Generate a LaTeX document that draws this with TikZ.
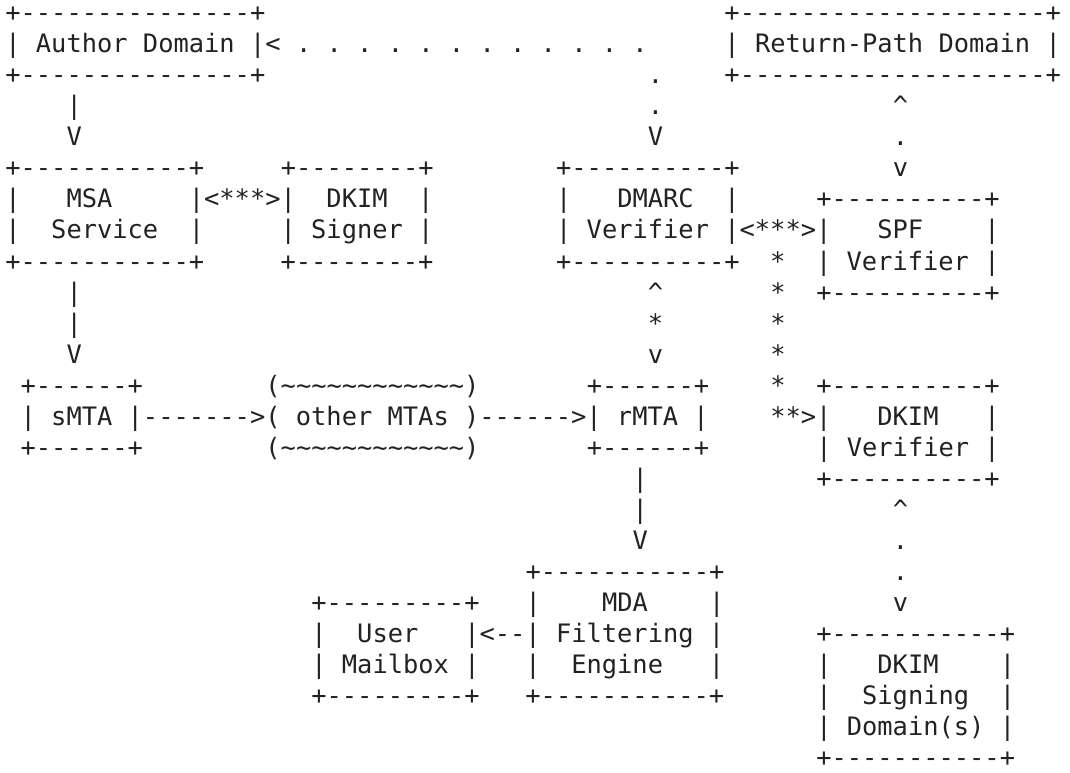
\documentclass[tikz,border=0pt]{standalone}
\usepackage{fontspec}
\newfontfamily\asciifont{DejaVu Sans Mono}[Ligatures=TeXOff]
\definecolor{ink}{RGB}{34,34,34}
\newcommand\asctilde{\textasciitilde}
\newcommand\asccaret{\textasciicircum}
\newcommand\asc[4]{\node[ascii] (#3) at ({5.35+15.3*(#1)},{21.6+31.05*(#2)}) {#4};}
\tikzset{ascii/.style={anchor=base west, inner sep=0pt, outer sep=0pt, text=ink,
  text depth=0pt,
  font=\asciifont\fontsize{25.4}{30}\selectfont\frenchspacing}}
\begin{document}
\begin{tikzpicture}[x=1pt,y=-1pt]
\useasboundingbox (0,0) rectangle (1070,772);
% row 0-2
\asc{0}{0}{authT}{+---------------+}
\asc{47}{0}{rpT}{+--------------------+}
\asc{0}{1}{authM}{|~Author~Domain~|}
\asc{17}{1}{dotsH}{<~.~.~.~.~.~.~.~.~.~.~.~.}
\asc{47}{1}{rpM}{|~Return-Path~Domain~|}
\asc{0}{2}{authB}{+---------------+}
\asc{42}{2}{d1}{.}
\asc{47}{2}{rpB}{+--------------------+}
% row 3-4
\asc{4}{3}{a1}{|}
\asc{42}{3}{d2}{.}
\asc{58}{3}{s1}{\asccaret}
\asc{4}{4}{a2}{V}
\asc{42}{4}{d3}{V}
\asc{58}{4}{s2}{.}
% row 5-8
\asc{0}{5}{msaT}{+-----------+}
\asc{18}{5}{dkimT}{+--------+}
\asc{36}{5}{dmT}{+----------+}
\asc{58}{5}{s3}{v}
\asc{0}{6}{msa1}{|~~~MSA~~~~~|<***>|~~DKIM~~|}
\asc{36}{6}{dm1}{|~~~DMARC~~|}
\asc{53}{6}{spfT}{+----------+}
\asc{0}{7}{msa2}{|~~Service~~|~~~~~|~Signer~|}
\asc{36}{7}{dm2}{|~Verifier~|<***>|~~~SPF~~~~|}
\asc{0}{8}{msaB}{+-----------+~~~~~+--------+}
\asc{36}{8}{dmB}{+----------+~~*~~|~Verifier~|}
% row 9-11
\asc{4}{9}{b1}{|}
\asc{42}{9}{r1}{\asccaret}
\asc{50}{9}{k1}{*}
\asc{53}{9}{spfB}{+----------+}
\asc{4}{10}{b2}{|}
\asc{42}{10}{r2}{*}
\asc{50}{10}{k2}{*}
\asc{4}{11}{b3}{V}
\asc{42}{11}{r3}{v}
\asc{50}{11}{k3}{*}
% row 12-14
\asc{1}{12}{smT}{+------+}
\asc{17}{12}{omT}{(\asctilde\asctilde\asctilde\asctilde\asctilde\asctilde\asctilde\asctilde\asctilde\asctilde\asctilde\asctilde)}
\asc{38}{12}{rmT}{+------+}
\asc{50}{12}{k4}{*}
\asc{53}{12}{dvT}{+----------+}
\asc{1}{13}{sm}{|~sMTA~|------->(~other~MTAs~)------>|~rMTA~|}
\asc{50}{13}{dv1}{**>|~~~DKIM~~~|}
\asc{1}{14}{smB}{+------+}
\asc{17}{14}{omB}{(\asctilde\asctilde\asctilde\asctilde\asctilde\asctilde\asctilde\asctilde\asctilde\asctilde\asctilde\asctilde)}
\asc{38}{14}{rmB}{+------+}
\asc{53}{14}{dv2}{|~Verifier~|}
% row 15-19
\asc{41}{15}{m1}{|}
\asc{53}{15}{dvB}{+----------+}
\asc{41}{16}{m2}{|}
\asc{58}{16}{g1}{\asccaret}
\asc{41}{17}{m3}{V}
\asc{58}{17}{g2}{.}
\asc{34}{18}{mdaT}{+-----------+}
\asc{58}{18}{g3}{.}
\asc{20}{19}{usT}{+---------+}
\asc{34}{19}{mda1}{|~~~~MDA~~~~|}
\asc{58}{19}{g4}{v}
% row 20-24
\asc{20}{20}{us1}{|~~User~~~|<--|~Filtering~|}
\asc{53}{20}{dsT}{+-----------+}
\asc{20}{21}{us2}{|~Mailbox~|~~~|~~Engine~~~|}
\asc{53}{21}{ds1}{|~~~DKIM~~~~|}
\asc{20}{22}{usB}{+---------+~~~+-----------+}
\asc{53}{22}{ds2}{|~~Signing~~|}
\asc{53}{23}{ds3}{|~Domain(s)~|}
\asc{53}{24}{dsB}{+-----------+}
\end{tikzpicture}
\end{document}
